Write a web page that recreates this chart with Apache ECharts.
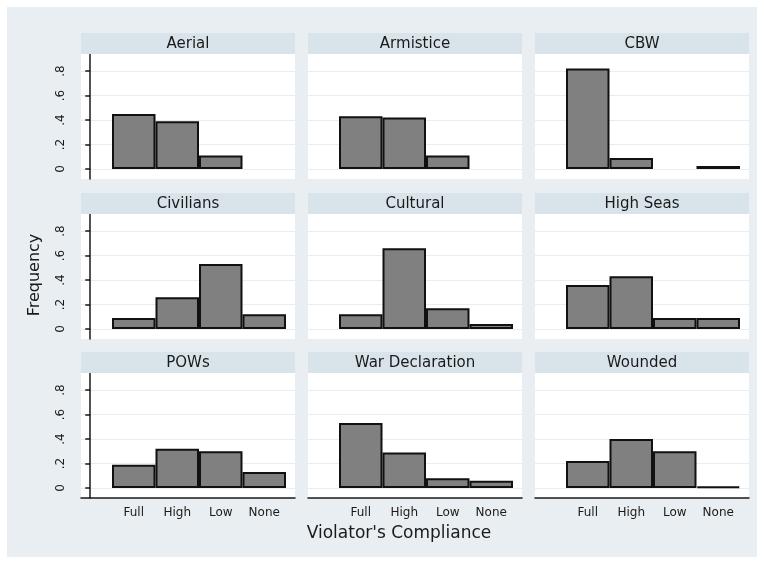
<!DOCTYPE html>
<html>
<head>
<meta charset="utf-8">
<script src="https://cdn.jsdelivr.net/npm/echarts@6/dist/echarts.min.js"></script>
<style>
  html, body { margin: 0; padding: 0; background: #ffffff; }
  #chart { width: 764px; height: 562px; }
</style>
</head>
<body>
<div id="chart"></div>
<script>
// Compliance categories on the x axis
const categories = ['Full', 'High', 'Low', 'None'];

// Panel titles, in reading order
const panelNames = ['Aerial', 'Armistice', 'CBW', 'Civilians', 'Cultural', 'High Seas', 'POWs', 'War Declaration', 'Wounded'];

// Frequency of each compliance level, per panel
const aerial          = [0.45, 0.39, 0.11, 0];
const armistice       = [0.43, 0.42, 0.11, 0];
const cbw             = [0.82, 0.09, 0, 0.025];
const civilians       = [0.09, 0.26, 0.53, 0.12];
const cultural        = [0.12, 0.66, 0.17, 0.04];
const highSeas        = [0.36, 0.43, 0.09, 0.09];
const pows            = [0.19, 0.32, 0.30, 0.13];
const warDeclaration  = [0.53, 0.29, 0.08, 0.06];
const wounded         = [0.22, 0.40, 0.30, 0.012];

const panelValues = [aerial, armistice, cbw, civilians, cultural, highSeas, pows, warDeclaration, wounded];

// y axis ticks and their labels
const yTicks = [0, 0.2, 0.4, 0.6, 0.8];
const yTickLabels = ['0', '.2', '.4', '.6', '.8'];

// Panel layout (pixels)
const colLeft = [81, 308, 535];
const rowTop = [54, 214, 373];
const plotW = 214;
const plotH = 125;
const headerH = 21;

const FONT = 'DejaVu Sans';
const INK = '#1a1a1a';

const grids = [], xAxes = [], yAxes = [], series = [], graphics = [];

// light outer backdrop
graphics.push({
  type: 'rect', z: -100,
  shape: { x: 7, y: 7, width: 750, height: 550 },
  style: { fill: '#e8eef1' }
});

panelNames.forEach((name, i) => {
  const r = Math.floor(i / 3), c = i % 3;
  const left = colLeft[c], top = rowTop[r];
  const isLeft = c === 0, isBottom = r === 2;

  grids.push({
    left: left, top: top, width: plotW, height: plotH,
    show: true, backgroundColor: '#ffffff', borderWidth: 0
  });

  xAxes.push({
    type: 'value', gridIndex: i,
    min: -0.2126, max: 4.707,
    axisLine: { show: isBottom, onZero: false, lineStyle: { color: INK, width: 1.5 } },
    axisTick: { show: false },
    splitLine: { show: false },
    axisLabel: {
      show: isBottom,
      customValues: [1, 2, 3, 4],
      formatter: v => categories[Math.round(v) - 1],
      color: INK, fontFamily: FONT, fontSize: 12, margin: 9
    }
  });

  yAxes.push({
    type: 'value', gridIndex: i,
    min: -0.0816, max: 0.9388,
    axisLine: { show: isLeft, lineStyle: { color: INK, width: 1.5 } },
    axisTick: {
      show: isLeft, length: 5, customValues: yTicks,
      lineStyle: { color: INK, width: 1.5 }
    },
    splitLine: { show: true, lineStyle: { color: '#e7edf0', width: 1 } },
    axisLabel: {
      show: isLeft,
      customValues: yTicks,
      rotate: 90,
      formatter: v => yTickLabels[yTicks.findIndex(t => Math.abs(t - v) < 1e-6)],
      color: INK, fontFamily: FONT, fontSize: 12, margin: 14
    }
  });

  series.push({
    type: 'bar', xAxisIndex: i, yAxisIndex: i,
    barWidth: '100%',
    silent: true,
    itemStyle: { color: '#808080', borderColor: '#111111', borderWidth: 2 },
    data: panelValues[i].map((v, j) => [j + 1, v === 0 ? '-' : v])
  });

  // title strip above each panel
  graphics.push({
    type: 'rect', z: 1,
    shape: { x: left, y: top - headerH, width: plotW, height: headerH },
    style: { fill: '#d9e4ea' }
  });
  graphics.push({
    type: 'text', z: 2,
    x: left + plotW / 2, y: top - headerH / 2 + 1,
    style: { text: name, fill: INK, fontFamily: FONT, fontSize: 15, align: 'center', verticalAlign: 'middle' }
  });
});

// shared axis titles
graphics.push({
  type: 'text', z: 2,
  x: 35, y: 275, rotation: Math.PI / 2,
  style: { text: 'Frequency', fill: INK, fontFamily: FONT, fontSize: 16, align: 'center', verticalAlign: 'middle' }
});
graphics.push({
  type: 'text', z: 2,
  x: 399, y: 534,
  style: { text: "Violator's Compliance", fill: INK, fontFamily: FONT, fontSize: 17, align: 'center', verticalAlign: 'middle' }
});

const chart = echarts.init(document.getElementById('chart'), null, { renderer: 'canvas' });
chart.setOption({
  animation: false,
  backgroundColor: '#ffffff',
  grid: grids,
  xAxis: xAxes,
  yAxis: yAxes,
  series: series,
  graphic: { elements: graphics }
});
</script>
</body>
</html>
